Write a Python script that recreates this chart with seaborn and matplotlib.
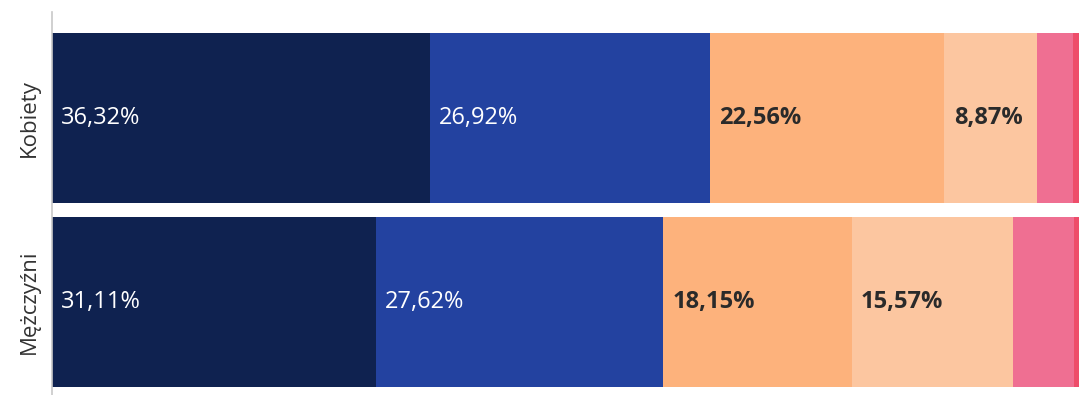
import numpy as np
import pandas as pd
import matplotlib
matplotlib.use("Agg")
import matplotlib.pyplot as plt
import seaborn as sns

# Data (last two segments are unlabeled, estimated)
groups = ["Kobiety", "Mężczyźni"]
kobiety = [36.32, 26.92, 22.56, 8.87, 3.55, 1.78]
mezczyzni = [31.11, 27.62, 18.15, 15.57, 5.8, 1.75]
labelled = [True, True, True, True, False, False]
colors = ["#0f2250", "#2342a0", "#fdb27c", "#fcc6a0", "#ef6f92", "#ee4d6a"]
text_colors = ["white", "white", "#2a2a2a", "#2a2a2a", "#2a2a2a", "#2a2a2a"]
text_weights = ["normal", "normal", "bold", "bold", "bold", "bold"]

sns.set_style("white")
plt.rcParams["font.family"] = ["Open Sans", "DejaVu Sans"]

values = np.array([kobiety, mezczyzni])
ends = values.cumsum(axis=1)
starts = ends - values

fig = plt.figure(figsize=(10.79, 3.95), dpi=100)
ax = fig.add_axes([52 / 1079, 0, 1 - 52 / 1079, 383 / 395])

# stacked bars: draw cumulative ends from the widest down
for i in reversed(range(values.shape[1])):
    df = pd.DataFrame({"grupa": groups, "suma": ends[:, i]})
    sns.barplot(data=df, x="suma", y="grupa", orient="h", color=colors[i],
                saturation=1, width=0.92, linewidth=0, ax=ax)

for r in range(len(groups)):
    for i in range(values.shape[1]):
        if not labelled[i]:
            continue
        ax.text(starts[r, i] + 0.9, r, f"{values[r, i]:.2f}%".replace(".", ","),
                color=text_colors[i], fontweight=text_weights[i],
                fontsize=17, va="center", ha="left")

ax.set_xlim(0, 98.75)
ax.set_ylim(1.503, -0.573)
ax.set_xlabel("")
ax.set_ylabel("")
ax.set_xticks([])
ax.tick_params(axis="y", length=0, pad=9, labelsize=16, labelcolor="#333333")
for lab in ax.get_yticklabels():
    lab.set_rotation(90)
    lab.set_va("center")
for s in ["top", "right", "bottom"]:
    ax.spines[s].set_visible(False)
ax.spines["left"].set_color("#c8c8c8")
ax.spines["left"].set_linewidth(1.2)

fig.savefig("out.png", dpi=100)
